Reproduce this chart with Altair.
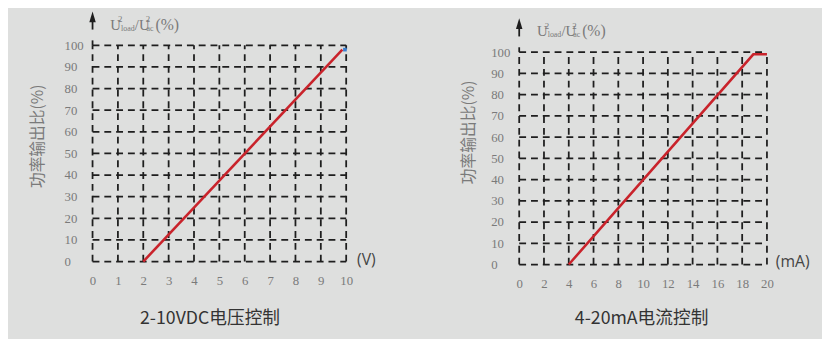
import altair as alt
import pandas as pd

# ---- data ----
y_ticks = [0, 10, 20, 30, 40, 50, 60, 70, 80, 90, 100]
left_x_ticks = [0, 1, 2, 3, 4, 5, 6, 7, 8, 9, 10]
right_x_ticks = [0, 2, 4, 6, 8, 10, 12, 14, 16, 18, 20]
left_line_x = [2, 9.85]
left_line_y = [0, 98]
right_line_x = [4, 18.9, 20]
right_line_y = [0, 99, 99]
left_caption = "2-10VDC电压控制"
right_caption = "4-20mA电流控制"
y_title = "功率输出比(%)"

BG = "#dedfde"
GRID = "#1e1e1e"
RED = "#c9232b"
LABEL = "#7a7a7a"
SERIF = "Liberation Serif"
SANS = "Noto Sans CJK SC"


def panel(xticks, line_x, line_y, unit, unit_dx, caption, width, height, ymax,
          title_x, title_y, ytitle_x, ytitle_y, blue_dot=False):
    xmax = xticks[-1]
    xs = alt.Scale(domain=[0, xmax], nice=False, zero=False)
    ys = alt.Scale(domain=[0, ymax], nice=False, zero=False)

    xa = alt.Axis(
        values=xticks, grid=False, domain=False, ticks=False,
        labelFont=SERIF, labelFontSize=13, labelColor=LABEL,
        labelPadding=13, labelFlush=False, labelOverlap=False,
        title=caption, titleFont=SANS, titleFontSize=18, titleFontWeight="normal",
        titleColor="#333333", titleX=title_x, titleY=title_y, titleBaseline="middle",
        titleAlign="center")
    ya = alt.Axis(
        values=y_ticks, grid=False, domain=False, ticks=False,
        labelFont=SERIF, labelFontSize=13, labelColor=LABEL,
        labelAlign="left", labelPadding=29, labelFlush=False, labelOverlap=False,
        labelBaseline="middle",
        title=y_title, titleFont=SANS, titleFontSize=16, titleFontWeight="normal",
        titleColor=LABEL, titleX=ytitle_x, titleY=ytitle_y, titleAngle=270,
        titleBaseline="middle", titleAlign="center")

    def XD(v):
        return alt.XDatum(v, scale=xs, axis=xa)

    def YD(v):
        return alt.YDatum(v, scale=ys, axis=ya)

    hdf = pd.DataFrame({"y": y_ticks, "x0": [0] * len(y_ticks), "x1": [xmax] * len(y_ticks)})
    hgrid = alt.Chart(hdf).mark_rule(color=GRID, strokeWidth=1.8, strokeDash=[7, 5]).encode(
        x=alt.X("x0:Q", scale=xs, axis=xa), x2="x1:Q",
        y=alt.Y("y:Q", scale=ys, axis=ya))

    vdf = pd.DataFrame({"x": xticks, "y0": [0] * len(xticks), "y1": [100] * len(xticks)})
    vgrid = alt.Chart(vdf).mark_rule(color=GRID, strokeWidth=1.8, strokeDash=[7, 5]).encode(
        x=alt.X("x:Q", scale=xs, axis=xa),
        y=alt.Y("y0:Q", scale=ys, axis=ya), y2="y1:Q")

    ext = alt.Chart().mark_rule(color=GRID, strokeWidth=1.8, strokeDash=[5, 4], y2Offset=-9).encode(
        x=XD(0), y=YD(100), y2=alt.Y2Datum(100))
    stem = alt.Chart().mark_rule(color=GRID, strokeWidth=1.8, yOffset=-25, y2Offset=-16).encode(
        x=XD(0), y=YD(100), y2=alt.Y2Datum(100))
    arrow = alt.Chart().mark_point(shape="M0,-1L0.6,1L-0.6,1Z", size=120, filled=True,
                                   opacity=1, color=GRID, yOffset=-29).encode(x=XD(0), y=YD(100))

    ldf = pd.DataFrame({"x": line_x, "y": line_y})
    line = alt.Chart(ldf).mark_line(color=RED, strokeWidth=2.6).encode(
        x=alt.X("x:Q", scale=xs, axis=xa), y=alt.Y("y:Q", scale=ys, axis=ya))

    unit_txt = alt.Chart().mark_text(text=unit, font="Open Sans", fontSize=16, color="#444444",
                                     align="left", baseline="middle", dx=unit_dx, dy=-2).encode(
        x=XD(xmax), y=YD(0))

    def t(s, dx, dy, size):
        return alt.Chart().mark_text(text=s, font=SERIF, fontSize=size, color=LABEL,
                                     align="left", baseline="alphabetic", dx=dx, dy=dy).encode(
            x=XD(0), y=YD(100))

    header = [t("U", 18, -16, 15), t("2", 26, -24, 9), t("load", 29, -15, 8),
              t("/U", 43, -16, 15), t("2", 54, -24, 9), t("ac", 55, -15, 8),
              t("(%)", 64, -16, 16)]

    layers = [hgrid, vgrid, ext, stem, arrow, line, unit_txt] + header
    if blue_dot:
        dot = alt.Chart().mark_point(shape="square", size=14, filled=True, opacity=1,
                                     color="#3b7fd0").encode(
            x=XD(line_x[-1] + 0.1), y=YD(line_y[-1]))
        layers.append(dot)
    return alt.layer(*layers).properties(width=width, height=height)


left = panel(left_x_ticks, left_line_x, left_line_y, "(V)", 11, left_caption,
             258, 220, 100, 119, 58, -56, 92, blue_dot=True)
right_h = 223
right = panel(right_x_ticks, right_line_x, right_line_y, "(mA)", 9, right_caption,
              252, right_h, 100 * right_h / 216, 124, 55, -51, 88)

chart = alt.hconcat(left, right, spacing=176, bounds="flush").configure(
    background=BG,
    padding={"left": 22, "top": 0, "right": 12, "bottom": 20},
).configure_view(stroke=None)

chart.save("out.html", embed_options={"renderer": "svg", "actions": False})
